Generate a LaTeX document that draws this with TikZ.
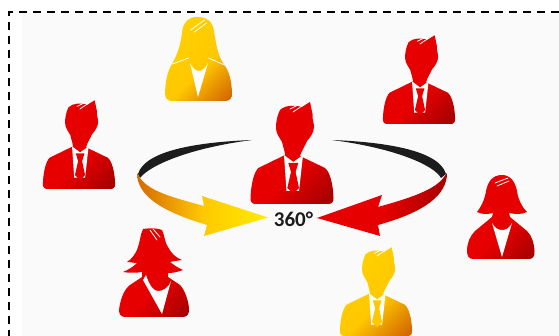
\documentclass[tikz,border=0pt]{standalone}
\usepackage{fontspec}
\setmainfont{Carlito}

\definecolor{solidred}{HTML}{E60000}
\definecolor{solidgold}{HTML}{FFC800}
\definecolor{darkred}{HTML}{A80000}
\definecolor{darkgold}{HTML}{D46A00}
\definecolor{paper}{HTML}{FAFAFA}
\definecolor{ring}{HTML}{1C1C1C}

\pgfdeclareverticalshading{tonered}{100bp}{color(0bp)=(solidred); color(58bp)=(solidred); color(82bp)=(darkred); color(100bp)=(darkred)}
\pgfdeclareverticalshading{tonegold}{100bp}{color(0bp)=(solidgold!70!yellow); color(56bp)=(solidgold); color(82bp)=(darkgold); color(100bp)=(darkgold)}
\pgfdeclarehorizontalshading{arrowgold}{100bp}{color(0bp)=(darkgold); color(25bp)=(darkgold); color(50bp)=(solidgold); color(75bp)=(yellow!85!orange); color(100bp)=(yellow!85!orange)}
\pgfdeclarehorizontalshading{arrowred}{100bp}{color(0bp)=(solidred); color(50bp)=(solidred); color(75bp)=(darkred); color(100bp)=(darkred)}

\tikzset{
    tone/.style={shade,shading=tone#1,shading angle=225},
    gap/.style={draw=white,line width=.8pt,line cap=round},
    shirt/.style={fill=white},
    pics/man/.style={code={
        \path[tone=#1]
            (-7,-49) -- (-33.7,-36) .. controls (-38,-32) and (-41,-20) .. (-41.5,-6)
            .. controls (-41.7,-2) and (-40,0) .. (-36,0) -- (36,0) .. controls (40,0) and (41.7,-2) .. (41.5,-6)
            .. controls (41,-20) and (38,-32) .. (33,-36) -- (8,-48)
            .. controls (10,-54) and (13,-58) .. (15,-63) .. controls (18,-66) and (22,-72) .. (22,-77)
            .. controls (22,-82) and (20,-84) .. (20.5,-90) -- (18,-102) -- (10,-97)
            .. controls (3,-99) and (-7,-99) .. (-12,-94) .. controls (-15,-88) and (-16,-82) .. (-16,-76)
            .. controls (-16,-70) and (-12,-66) .. (-10,-62) .. controls (-9,-57) and (-7,-53) .. cycle;
        \fill[shirt] (-8,-49) -- (-5.5,-13) -- (7,-13) -- (11,-49) -- (1.3,-42) -- cycle;
        \fill[solid#1] (-3.7,-41) -- (6.3,-41) -- (3.6,-32) -- (7,-16) -- (1.3,-10) -- (-4.7,-16) -- (-1,-32) -- cycle;
        \draw[gap] (-2,-95) -- (8,-100);
        \draw[gap] (1,-92) -- (10,-98);
    }},
    pics/longhair/.style={code={
        \path[tone=#1]
            (-1.5,-84) .. controls (-9,-84) and (-14,-80) .. (-16,-72) .. controls (-17,-62) and (-19,-50) .. (-26.5,-37)
            .. controls (-31,-30) and (-33,-20) .. (-33.5,-8) .. controls (-33.5,-3) and (-31,0) .. (-27,0)
            -- (27,0) .. controls (31,0) and (34,-3) .. (33.5,-8) .. controls (33,-20) and (31,-30) .. (25,-37)
            .. controls (19,-46) and (17,-60) .. (15.5,-70) .. controls (14,-80) and (8,-84) .. cycle;
        \fill[shirt] (-8.5,-38) -- (-.5,-4) -- (9.5,-38) .. controls (7,-32) and (3,-30) .. (.5,-30) .. controls (-3,-30) and (-6,-33) .. cycle;
        \draw[gap] (-26,-37) -- (-10,-43);
        \draw[gap] (26,-36) -- (10,-43);
        \draw[gap] (-8,-71) -- (6,-81);
        \draw[gap] (-4,-69) -- (8,-78);
    }},
    pics/shorthair/.style={code={
        \path[tone=#1]
            (1,-84) .. controls (-8,-84) and (-13,-78) .. (-15,-68) .. controls (-16,-60) and (-20,-52) .. (-24,-47)
            .. controls (-18,-44) and (-12,-45) .. (-8,-46) -- (-9,-42) -- (-26,-28) .. controls (-31,-23) and (-34,-16) .. (-34,-8)
            .. controls (-34,-3) and (-32,0) .. (-28,0) -- (28,0) .. controls (32,0) and (34,-3) .. (33.5,-8)
            .. controls (33,-16) and (31,-23) .. (26,-28) -- (9,-42) -- (8,-46)
            .. controls (13,-45) and (20,-44) .. (26,-47) .. controls (21,-52) and (17,-60) .. (16,-68)
            .. controls (14,-78) and (9,-84) .. cycle;
        \fill[shirt] (-9,-36) -- (1,-2) -- (11,-36) .. controls (8,-30) and (4,-29) .. (1,-29) .. controls (-3,-29) and (-6,-31) .. cycle;
        \draw[gap] (-6,-76) -- (7,-81);
        \draw[gap] (-4,-73) -- (8,-78);
    }},
    pics/wildhair/.style={code={
        \path[tone=#1]
            (-11,-88) .. controls (-5,-89) and (4,-89) .. (8,-87) .. controls (11,-80) and (11,-74) .. (14,-70)
            .. controls (17,-64) and (22,-59) .. (28,-57) .. controls (23,-56) and (19,-56) .. (16,-55)
            .. controls (20,-52) and (24,-49) .. (29,-47) .. controls (24,-45) and (19,-44) .. (14,-44)
            -- (14,-40) -- (26,-32) .. controls (31,-27) and (35,-15) .. (35,-7)
            .. controls (35,-3) and (33,0) .. (29,0) -- (-29,0) .. controls (-33,0) and (-35,-3) .. (-35,-7)
            .. controls (-34,-15) and (-31,-27) .. (-24,-32) -- (-12,-40) -- (-12,-45)
            .. controls (-18,-44) and (-25,-44) .. (-31,-45) .. controls (-26,-47) and (-21,-50) .. (-17,-54)
            .. controls (-20,-54) and (-24,-55) .. (-27,-55) .. controls (-22,-58) and (-19,-63) .. (-17,-67)
            .. controls (-14,-74) and (-14,-82) .. cycle;
        \fill[shirt] (-11,-37) -- (8,-3) -- (17,-36) .. controls (14,-28) and (8,-26) .. (4,-26) .. controls (0,-26) and (-4,-30) .. (-8,-42) -- cycle;
        \draw[gap] (-4,-87) -- (3,-77);
        \draw[gap] (-1,-88) -- (6,-80);
    }},
}

\begin{document}
\begin{tikzpicture}[x=1pt,y=-1pt]
    \useasboundingbox (0,0) rectangle (559,336);
    \fill[paper] (22,13) rectangle (559,336);
    \draw[black,line width=1.8pt,dash pattern=on 8pt off 6pt] (559,12.3) -- (9,12.3) -- (9,336);

    \pic at (198.5,101) {longhair=gold};
    \pic[scale=.87] at (419,124) {man=red};
    \pic[scale=.87] at (79,189) {man=red};
    \pic at (292,204) {man=red};
    \pic at (501,259) {shorthair=red};
    \pic at (154,317) {wildhair=red};
    \pic[scale=.87] at (376,336) {man=gold};

    % back of the ring
    \fill[ring] (252,140) .. controls (200,142) and (145,150) .. (138,174) -- (140,178)
        .. controls (150,165) and (190,148) .. cycle;
    \fill[ring] (332,140) .. controls (384,142) and (439,150) .. (446,174) -- (441,178)
        .. controls (434,165) and (394,148) .. cycle;

    % front of the ring
    \path[shade,shading=arrowgold] (137,173) .. controls (137,195) and (160,211) .. (207,225) -- (204,236)
        -- (268,217.5) -- (202,196) -- (204,206) .. controls (175,198) and (150,192) .. (140,178) -- cycle;
    \path[shade,shading=arrowred] (447,173) .. controls (447,195) and (425,212) .. (378,225) -- (380,236)
        -- (317,218) -- (382,195) -- (378,207) .. controls (410,198) and (435,190) .. (444,177) -- cycle;

    \node[font=\bfseries\fontsize{21}{24}\selectfont,text=ring,inner sep=0pt] (angle) at (293.5,219.5) {360°};
\end{tikzpicture}
\end{document}
